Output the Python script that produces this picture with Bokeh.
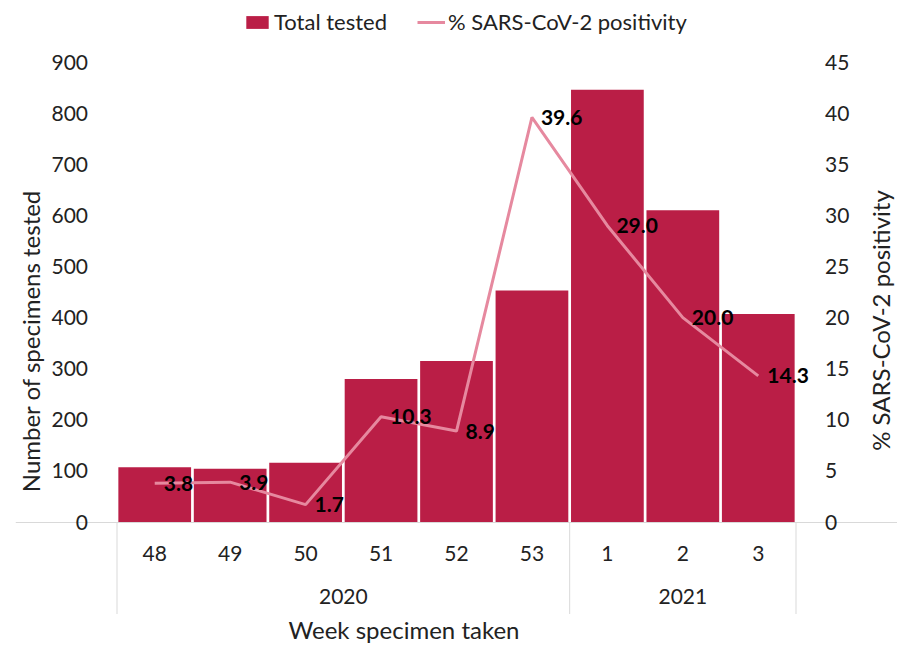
import math
from bokeh.plotting import figure
from bokeh.models import (FactorRange, Range1d, LinearAxis, Legend, LegendItem,
                          FixedTicker, Label, ColumnDataSource)
from bokeh.core.properties import value
from bokeh.embed import file_html
from bokeh.resources import INLINE

# ---- data ----
years = ["2020", "2020", "2020", "2020", "2020", "2020", "2021", "2021", "2021"]
weeks = ["48", "49", "50", "51", "52", "53", "1", "2", "3"]
total_tested = [107, 104, 116, 280, 315, 453, 846, 610, 407]
pct_positive = [3.8, 3.9, 1.7, 10.3, 8.9, 39.6, 29.0, 20.0, 14.3]
left_ticks = [0, 100, 200, 300, 400, 500, 600, 700, 800, 900]
right_ticks = [0, 5, 10, 15, 20, 25, 30, 35, 40, 45]

# ---- style / layout ----
FONT = "Lato"
TXT = "#222222"
BAR = "#BA1E46"
LINE = "#E6899F"
GRID = "#D9D9D9"

W, H = 897, 645
BORDER_L = 15
BAR_L, BAR_R = 116.4, 795.4       # pixel extent of the category area
Y0, YTOP = 521.5, 61.7            # pixel rows of 0 and of the top tick

n = len(weeks)
unit = (BAR_R - BAR_L) / n
pad = ((W - BORDER_L) / unit - n) / 2
scale = (Y0 - YTOP) / left_ticks[-1]
y_start = -(H - Y0) / scale
y_end = Y0 / scale
ratio = right_ticks[-1] / left_ticks[-1]

src = ColumnDataSource(dict(x=weeks, total=total_tested, pct=pct_positive,
                            lab=["%.1f" % v for v in pct_positive]))

p = figure(width=W, height=H, output_backend="svg", toolbar_location=None,
           x_range=FactorRange(factors=weeks, range_padding=pad,
                               range_padding_units="absolute", factor_padding=0),
           y_range=Range1d(y_start, y_end), min_border=0)
p.min_border_left = BORDER_L
p.min_border_right = 0
p.min_border_top = 0
p.min_border_bottom = 0
p.outline_line_color = None
p.xgrid.visible = False
p.ygrid.visible = False
p.extra_y_ranges = {"pct": Range1d(y_start * ratio, y_end * ratio)}

bars = p.vbar(x="x", top="total", width=0.964, source=src, fill_color=BAR, line_color=None)
line = p.line(x="x", y="pct", source=src, y_range_name="pct", line_color=LINE, line_width=3)
p.text(x="x", y="pct", text="lab", source=src, y_range_name="pct", x_offset=9,
       text_baseline="middle", text_align="left", text_font=value(FONT),
       text_font_style="bold", text_font_size="21px", text_color="#000000")

# year groups: boundaries and centres derived from the years list
groups, bounds = [], [0]
for i, yv in enumerate(years):
    if not groups or groups[-1] != yv:
        if groups:
            bounds.append(i)
        groups.append(yv)
bounds.append(n)
centers = [(bounds[i] + bounds[i + 1]) / 2 for i in range(len(groups))]

p.ray(x=bounds, y=[0] * len(bounds), length=92, length_units="screen",
      angle=-math.pi / 2, line_color=GRID, line_width=1)
p.text(x=centers, y=[0] * len(groups), text=groups, y_offset=74,
       text_align="center", text_baseline="middle", text_font=value(FONT),
       text_font_size="21px", text_color=TXT)

# left axis
ya = p.yaxis[0]
ya.fixed_location = 0
ya.ticker = FixedTicker(ticks=left_ticks)
ya.axis_line_color = None
ya.major_tick_line_color = None
ya.minor_tick_line_color = None
ya.major_label_standoff = 23
ya.major_label_text_font = FONT
ya.major_label_text_font_size = "21px"
ya.major_label_text_color = TXT

# right axis
ra = LinearAxis(y_range_name="pct", ticker=FixedTicker(ticks=right_ticks))
ra.fixed_location = n
ra.axis_line_color = None
ra.major_tick_line_color = None
ra.minor_tick_line_color = None
ra.major_label_standoff = 23
ra.major_label_text_font = FONT
ra.major_label_text_font_size = "21px"
ra.major_label_text_color = TXT
p.add_layout(ra, "right")

# bottom axis
xa = p.xaxis[0]
xa.fixed_location = 0
xa.axis_line_color = GRID
xa.major_tick_line_color = None
xa.minor_tick_line_color = None
xa.major_label_standoff = 18
xa.major_label_text_font = FONT
xa.major_label_text_font_size = "21px"
xa.major_label_text_color = TXT

# axis titles
def title(text, x, y, angle=0.0):
    p.add_layout(Label(x=x - BORDER_L, y=H - y, x_units="screen", y_units="screen",
                       text=text, angle=angle, text_align="center", text_baseline="middle",
                       text_font=FONT, text_font_size="24px", text_color=TXT))

title("Number of specimens tested", 30, 340.5, math.pi / 2)
title("% SARS-CoV-2 positivity", 880, 320, math.pi / 2)
title("Week specimen taken", 403.5, 629)

legend = Legend(items=[LegendItem(label="Total tested", renderers=[bars]),
                       LegendItem(label="% SARS-CoV-2 positivity", renderers=[line])],
                orientation="horizontal", location=(228, 610))
legend.border_line_color = None
legend.background_fill_alpha = 0
legend.label_text_font = FONT
legend.label_text_font_size = "22px"
legend.label_text_color = TXT
legend.glyph_width = 28
legend.glyph_height = 16
legend.spacing = 30
legend.padding = 0
legend.margin = 0
legend.label_standoff = 3
p.add_layout(legend, "center")

open("out.html", "w").write(file_html(p, INLINE))
